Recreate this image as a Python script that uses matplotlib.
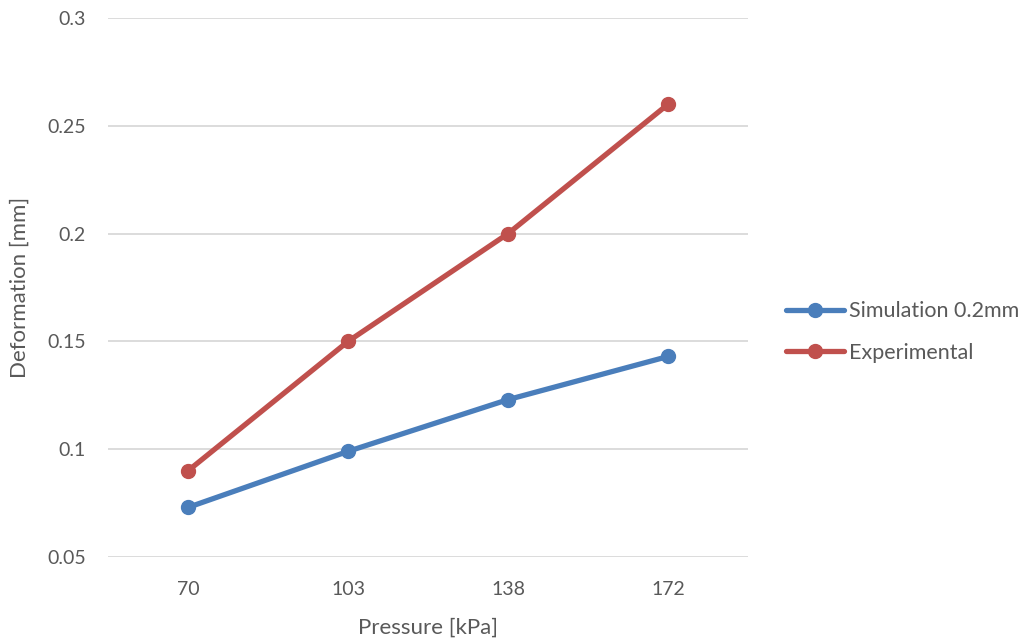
import matplotlib.pyplot as plt

plt.rcParams['font.family'] = ['Lato', 'DejaVu Sans']

pressures = ["70", "103", "138", "172"]
simulation = [0.073, 0.099, 0.123, 0.143]
experimental = [0.09, 0.15, 0.2, 0.26]

text_col = "#595959"

fig = plt.figure(figsize=(10.29, 6.4), dpi=100)
ax = fig.add_axes([0.105, 0.1297, 0.622, 0.8422])

x = range(len(pressures))
ax.plot(x, simulation, color="#4a7ebb", lw=3.8, marker="o", ms=10,
        label="Simulation 0.2mm", solid_capstyle="round")
ax.plot(x, experimental, color="#c0504d", lw=3.8, marker="o", ms=10,
        label="Experimental", solid_capstyle="round")

ax.set_xlim(-0.5, len(pressures) - 0.5)
ax.set_ylim(0.05, 0.3)
ax.set_xticks(list(x))
ax.set_xticklabels(pressures)
ax.set_yticks([0.05, 0.1, 0.15, 0.2, 0.25, 0.3])
ax.set_yticklabels(["0.05", "0.1", "0.15", "0.2", "0.25", "0.3"])
ax.tick_params(axis='both', length=0, labelsize=14, colors=text_col)
ax.tick_params(axis='x', pad=17)
ax.tick_params(axis='y', pad=16)

ax.grid(axis='y', color="#d9d9d9", lw=1.3)
ax.set_axisbelow(True)
for s in ax.spines.values():
    s.set_visible(False)

ax.set_xlabel("Pressure [kPa]", fontsize=16, color=text_col, va='center')
ax.set_ylabel("Deformation [mm]", fontsize=16, color=text_col, va='center')
ax.xaxis.set_label_coords(0.5, -0.1317)
ax.yaxis.set_label_coords(-0.1375, 0.5)

ax.legend(loc="center left", bbox_to_anchor=(0.764, 0.481),
          bbox_transform=fig.transFigure, frameon=False, fontsize=15.5,
          labelcolor=text_col, handlelength=2.7, handletextpad=0.2,
          labelspacing=1.0, borderpad=0, borderaxespad=0)

plt.savefig("out.png", dpi=100)
